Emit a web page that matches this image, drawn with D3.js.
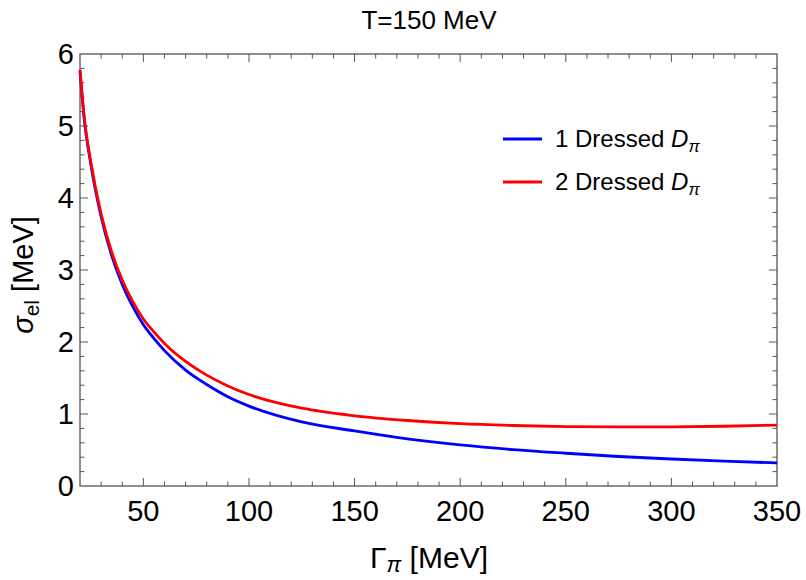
<!DOCTYPE html>
<html>
<head>
<meta charset="utf-8">
<script src="https://cdn.jsdelivr.net/npm/d3@7"></script>
<style>
  body { margin: 0; background: #fff; }
  svg text { font-family: "Liberation Sans", Arial, sans-serif; fill: #000; }
</style>
</head>
<body>
<main></main>
<script>
// values
const gamma = [20, 22, 25, 30, 35, 40, 45, 50, 55, 60, 70, 80, 90, 100, 125, 150, 175, 200, 225, 250, 275, 300, 325, 350];
const oneDressed = [5.77, 5.10, 4.49, 3.74, 3.20, 2.80, 2.49, 2.24, 2.05, 1.88, 1.61, 1.41, 1.24, 1.11, 0.89, 0.765, 0.655, 0.57, 0.505, 0.455, 0.41, 0.375, 0.345, 0.32];
const twoDressed = [5.78, 5.12, 4.52, 3.78, 3.25, 2.86, 2.56, 2.32, 2.14, 1.98, 1.73, 1.54, 1.39, 1.27, 1.08, 0.975, 0.91, 0.865, 0.84, 0.825, 0.82, 0.822, 0.83, 0.845];
const xTicks = [50, 100, 150, 200, 250, 300, 350];
const yTicks = [0, 1, 2, 3, 4, 5, 6];
const seriesNames = ["1 Dressed ", "2 Dressed "];
const seriesColors = ["#0000ff", "#ff0000"];

const width = 806, height = 580;
const mLeft = 80, mRight = 777, mTop = 54, mBottom = 486;

const svg = d3.select("main").append("svg")
  .attr("width", width)
  .attr("height", height);

const x = d3.scaleLinear().domain([20, 350]).range([mLeft, mRight]);
const y = d3.scaleLinear().domain([0, 6]).range([mBottom, mTop]);

const frameColor = "#555";

// minor + major ticks, all four sides, pointing inward
const xMinor = d3.range(30, 350, 10);
const yMinor = d3.range(0.2, 6, 0.2);

function tickLen(major) { return major ? 8 : 4.5; }

const tg = svg.append("g").attr("stroke", frameColor).attr("stroke-width", 1);
xMinor.forEach(v => {
  const l = tickLen(v % 50 === 0);
  tg.append("line").attr("x1", x(v)).attr("x2", x(v)).attr("y1", mBottom).attr("y2", mBottom - l);
  tg.append("line").attr("x1", x(v)).attr("x2", x(v)).attr("y1", mTop).attr("y2", mTop + l);
});
yMinor.forEach(v => {
  const l = tickLen(Math.abs(v - Math.round(v)) < 1e-6);
  tg.append("line").attr("x1", mLeft).attr("x2", mLeft + l).attr("y1", y(v)).attr("y2", y(v));
  tg.append("line").attr("x1", mRight).attr("x2", mRight - l).attr("y1", y(v)).attr("y2", y(v));
});

// frame
svg.append("rect")
  .attr("x", mLeft).attr("y", mTop)
  .attr("width", mRight - mLeft).attr("height", mBottom - mTop)
  .attr("fill", "none")
  .attr("stroke", frameColor)
  .attr("stroke-width", 1.3);

// tick labels
svg.selectAll(".xlab").data(xTicks).enter().append("text")
  .attr("x", d => x(d))
  .attr("y", 521)
  .attr("text-anchor", "middle")
  .attr("font-size", 29)
  .text(d => d);

svg.selectAll(".ylab").data(yTicks).enter().append("text")
  .attr("x", 74)
  .attr("y", d => y(d) + 10)
  .attr("text-anchor", "end")
  .attr("font-size", 29)
  .text(d => d);

// curves
const line = d3.line().curve(d3.curveMonotoneX);
[oneDressed, twoDressed].forEach((vals, i) => {
  svg.append("path")
    .attr("d", line(gamma.map((g, j) => [x(g), y(vals[j])])))
    .attr("fill", "none")
    .attr("stroke", seriesColors[i])
    .attr("stroke-width", 2.8);
});

// title
svg.append("text")
  .attr("x", 429).attr("y", 29)
  .attr("text-anchor", "middle")
  .attr("font-size", 26)
  .text("T=150 MeV");

// x label
const xl = svg.append("text")
  .attr("x", 429).attr("y", 568)
  .attr("text-anchor", "middle")
  .attr("font-size", 30);
xl.append("tspan").text("Γ");
xl.append("tspan").attr("font-style", "italic").attr("font-size", 22).attr("dy", 4).text("π");
xl.append("tspan").attr("dy", -4).text(" [MeV]");

// y label
const yl = svg.append("text")
  .attr("transform", "translate(33,275) rotate(-90)")
  .attr("text-anchor", "middle")
  .attr("font-size", 29);
yl.append("tspan").attr("font-style", "italic").text("σ");
yl.append("tspan").attr("font-size", 21).attr("dy", 6).text("el");
yl.append("tspan").attr("dy", -6).text(" [MeV]");

// legend
const legY = [139, 182];
seriesNames.forEach((name, i) => {
  svg.append("line")
    .attr("x1", 503).attr("x2", 542)
    .attr("y1", legY[i]).attr("y2", legY[i])
    .attr("stroke", seriesColors[i])
    .attr("stroke-width", 2.8);
  const t = svg.append("text")
    .attr("x", 555).attr("y", legY[i] + 8)
    .attr("font-size", 24);
  t.append("tspan").text(name);
  t.append("tspan").attr("font-style", "italic").text("D");
  t.append("tspan").attr("font-style", "italic").attr("font-size", 17).attr("dy", 5).text("π");
});
</script>
</body>
</html>
